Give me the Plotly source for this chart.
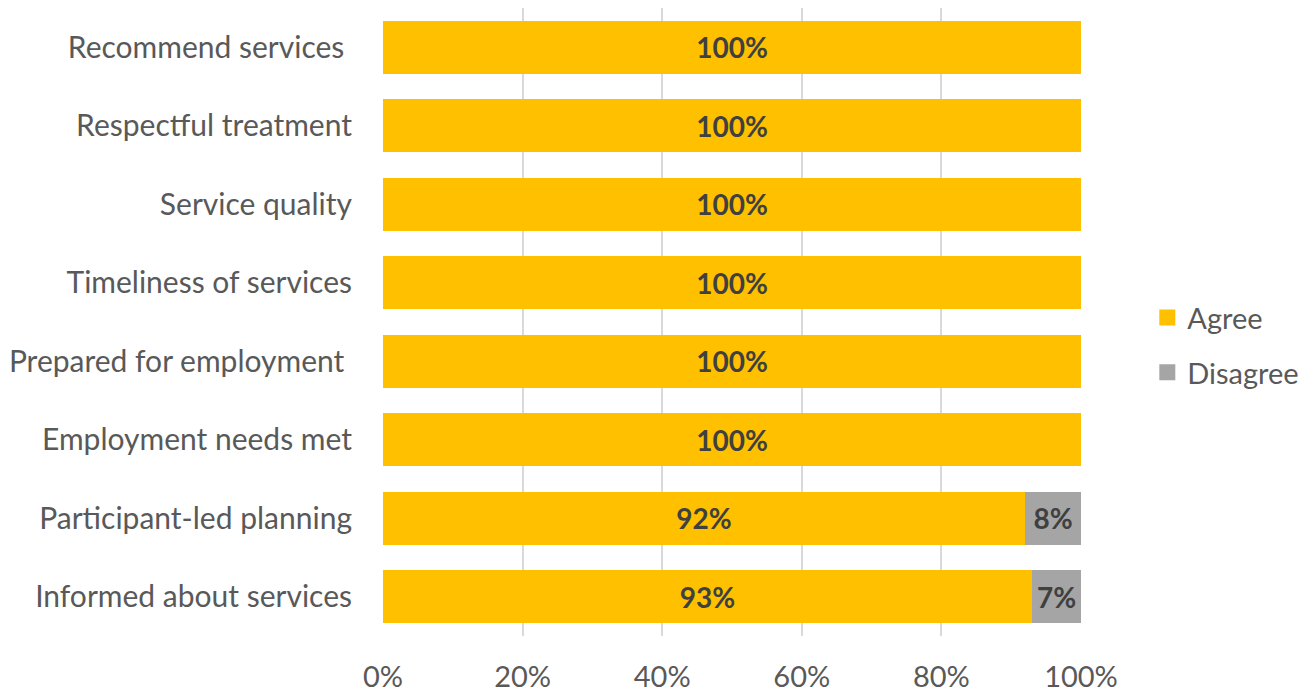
import plotly.graph_objects as go

categories = ["Informed about services", "Participant-led planning", "Employment needs met",
              "Prepared for employment ", "Timeliness of services", "Service quality",
              "Respectful treatment", "Recommend services "]
agree = [0.93, 0.92, 1.0, 1.0, 1.0, 1.0, 1.0, 1.0]
disagree = [0.07, 0.08, 0, 0, 0, 0, 0, 0]
tick_vals = [0, 0.2, 0.4, 0.6, 0.8, 1.0]
tick_text = ["0%", "20%", "40%", "60%", "80%", "100%"]
series_names = ["Agree", "Disagree"]
series_colors = ["#FFC000", "#A5A5A5"]

FONT = "Lato"
TXT = "#595959"

def lbl(vals):
    return [f"{round(v*100)}%" if v > 0 else "" for v in vals]

fig = go.Figure()
for name, vals, col in zip(series_names, [agree, disagree], series_colors):
    fig.add_trace(go.Bar(y=categories, x=vals, orientation="h", name=name, showlegend=False,
                         marker=dict(color=col, line=dict(width=0)),
                         text=lbl(vals), textposition="inside", insidetextanchor="middle",
                         textfont=dict(family=FONT, size=28, color="#404040", weight="bold")))
# legend entries with square markers
for name, col in zip(series_names, series_colors):
    fig.add_trace(go.Scatter(x=[None], y=[None], mode="markers", name=name, legendgroup=name,
                             marker=dict(symbol="square", size=18, color=col)))

fig.update_layout(
    barmode="stack", bargap=0.33,
    width=1312, height=694,
    margin=dict(l=383, r=231, t=8, b=58),
    paper_bgcolor="white", plot_bgcolor="white",
    font=dict(family=FONT, size=29, color=TXT),
    uniformtext=dict(mode="show", minsize=10),
    legend=dict(x=1.095, y=0.463, xanchor="left", yanchor="middle", traceorder="grouped",
                font=dict(family=FONT, size=29, color=TXT), tracegroupgap=14,
                itemsizing="trace", itemwidth=30, bgcolor="rgba(0,0,0,0)"),
    showlegend=True,
)
fig.update_xaxes(range=[0, 1], tickvals=tick_vals, ticktext=tick_text, automargin=False,
                 showgrid=True, gridcolor="#D9D9D9", gridwidth=1.5, zeroline=False,
                 showline=False, ticks="", ticklabelstandoff=21,
                 tickfont=dict(family=FONT, size=29, color=TXT), fixedrange=True)
fig.update_yaxes(showgrid=False, showline=False, ticks="", ticklabelstandoff=30, automargin=False,
                 tickfont=dict(family=FONT, size=30, color=TXT), fixedrange=True)

fig.write_html("out.html")
